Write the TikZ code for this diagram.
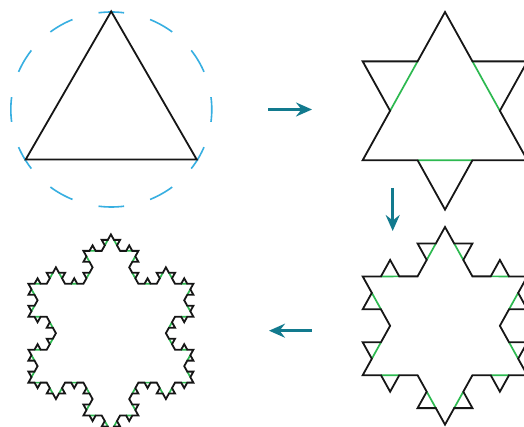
\documentclass[tikz,border=0pt]{standalone}
\usetikzlibrary{arrows.meta}
\definecolor{kblack}{RGB}{22,22,22}
\definecolor{kgreen}{RGB}{45,185,80}
\definecolor{kblue}{RGB}{55,175,225}
\definecolor{kteal}{RGB}{18,122,142}
\tikzset{
  kline/.style={draw=kblack, line width=1.8pt},
  gline/.style={draw=kgreen, line width=1.7pt},
  cdash/.style={draw=kblue, line width=1.6pt},
  flow/.style={draw=kteal, line width=3.4pt, -{Stealth[length=16pt,width=14pt,inset=5.5pt]}}
}
% recursive Koch segment: level, x1, y1, x2, y2 (screen coords, y down)
\newcommand\kochseg[5]{%
  \begingroup
  \ifnum#1=0
    \xdef\kpath{\kpath\space -- (#4,#5)}%
  \else
    \pgfmathsetmacro\kax{(#2)+((#4)-(#2))/3}%
    \pgfmathsetmacro\kay{(#3)+((#5)-(#3))/3}%
    \pgfmathsetmacro\kbx{(#2)+2*((#4)-(#2))/3}%
    \pgfmathsetmacro\kby{(#3)+2*((#5)-(#3))/3}%
    \pgfmathsetmacro\kcx{((#2)+(#4))/2+((#5)-(#3))*0.288675}%
    \pgfmathsetmacro\kcy{((#3)+(#5))/2-((#4)-(#2))*0.288675}%
    \ifnum#1=1 \xdef\gpath{\gpath\space (\kax,\kay) -- (\kbx,\kby)}\fi
    \edef\kochnext{%
      \noexpand\kochseg{\the\numexpr#1-1\relax}{#2}{#3}{\kax}{\kay}%
      \noexpand\kochseg{\the\numexpr#1-1\relax}{\kax}{\kay}{\kcx}{\kcy}%
      \noexpand\kochseg{\the\numexpr#1-1\relax}{\kcx}{\kcy}{\kbx}{\kby}%
      \noexpand\kochseg{\the\numexpr#1-1\relax}{\kbx}{\kby}{#4}{#5}}%
    \kochnext
  \fi
  \endgroup}
\newcommand\snowflake[1]{%
  \gdef\kpath{}\gdef\gpath{}%
  \kochseg{#1}{0}{-98.8}{85.56}{49.4}%
  \kochseg{#1}{85.56}{49.4}{-85.56}{49.4}%
  \kochseg{#1}{-85.56}{49.4}{0}{-98.8}%
  \ifnum#1>0 \draw[gline] \gpath;\fi
  \draw[kline] (0,-98.8) \kpath -- cycle;}
\begin{document}
\begin{tikzpicture}[x=1pt,y=-1pt]
\useasboundingbox (0,0) rectangle (524,427);
\clip (0,0) rectangle (524,427);
\fill[white] (0,0) rectangle (524,427);
% panel 1: triangle in dashed circle
\foreach \a in {0,30,...,330}
  \draw[cdash] ([shift={(\a-7.3:100.5 and 97.5)}]111.3,109.5)
    arc[start angle=\a-7.3, end angle=\a+7.3, x radius=100.5, y radius=97.5];
\begin{scope}[shift={(111.2,110.2)}]
  \snowflake{0}
\end{scope}
% panel 2
\begin{scope}[shift={(445,110.8)}, xscale=0.962]
  \snowflake{1}
\end{scope}
% panel 3
\begin{scope}[shift={(445,325.8)}, xscale=0.962]
  \snowflake{2}
\end{scope}
% panel 4
\begin{scope}[shift={(110.9,333.2)}, xscale=0.964]
  \snowflake{3}
\end{scope}
% arrows
\coordinate (r1) at (268,109.5);
\coordinate (r2) at (312,109.5);
\coordinate (d1) at (392.7,188);
\coordinate (d2) at (392.7,231);
\coordinate (l1) at (311.7,330.7);
\coordinate (l2) at (269,330.7);
\draw[flow] (r1) -- (r2);
\draw[flow] (d1) -- (d2);
\draw[flow] (l1) -- (l2);
\end{tikzpicture}
\end{document}
